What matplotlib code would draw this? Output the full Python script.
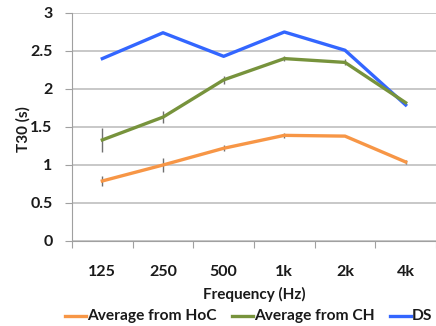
import matplotlib
matplotlib.use("Agg")
import matplotlib.pyplot as plt
from matplotlib.lines import Line2D
import numpy as np

categories = ["125", "250", "500", "1k", "2k", "4k"]
hoc = [0.79, 1.00, 1.22, 1.39, 1.38, 1.04]
hoc_err = [0.07, 0.09, 0.04, 0.03, 0.0, 0.03]
ch = [1.33, 1.63, 2.12, 2.40, 2.35, 1.82]
ch_err = [0.16, 0.08, 0.05, 0.03, 0.04, 0.0]
ds = [2.40, 2.74, 2.43, 2.75, 2.51, 1.79]
yticks = [0, 0.5, 1, 1.5, 2, 2.5, 3]
ytick_labels = ["0", "0.5", "1", "1.5", "2", "2.5", "3"]
series_names = ["Average from HoC", "Average from CH", "DS"]

plt.rcParams['font.family'] = ['Lato', 'DejaVu Sans']

W, H = 436, 326
fig = plt.figure(figsize=(4.36, 3.26), dpi=100)
ax = fig.add_axes([72 / W, 85 / H, 364 / W, 228 / H])

x = np.arange(len(categories)) + 0.5
c_hoc = "#f79646"
c_ch = "#77933c"
c_ds = "#3366ff"
colors = [c_hoc, c_ch, c_ds]

ax.errorbar(x, hoc, yerr=hoc_err, color=c_hoc, lw=2.4, ecolor="#707070",
            elinewidth=1.0, capsize=0, zorder=3)
ax.errorbar(x, ch, yerr=ch_err, color=c_ch, lw=2.4, ecolor="#707070",
            elinewidth=1.0, capsize=0, zorder=3)
ax.plot(x, ds, color=c_ds, lw=2.4, zorder=3)

ax.set_xlim(0, 6)
ax.set_ylim(0, 3)
ax.set_yticks(yticks)
ax.set_yticklabels(ytick_labels)
ax.set_xticks(np.arange(0, 7))
ax.set_xticklabels([])
ax.set_xticks(x, minor=True)
ax.set_xticklabels(categories, minor=True)
ax.tick_params(axis='x', which='minor', length=0, pad=17)
ax.tick_params(axis='x', which='major', length=5, color="#a0a0a0", direction='out')
ax.tick_params(axis='y', length=5, color="#a0a0a0", pad=9)
for lab in ax.get_xticklabels(minor=True) + ax.get_yticklabels():
    lab.set_fontsize(11.5)
    lab.set_fontweight('bold')
    lab.set_color("#1a1a1a")

ax.grid(axis='y', color="#bfbfbf", lw=1.2)
ax.set_axisbelow(True)
for s in ["top", "right"]:
    ax.spines[s].set_visible(False)
ax.spines["left"].set_color("#a0a0a0")
ax.spines["bottom"].set_color("#a0a0a0")

ax.set_xlabel("Frequency (Hz)", fontsize=11, fontweight='bold', labelpad=6,
              color="#1a1a1a")
ax.set_ylabel("T30 (s)", fontsize=11, fontweight='bold', color="#1a1a1a",
              va='center')
ax.yaxis.set_label_coords((23 - 72) / 364, 0.49)

# legend drawn manually in figure pixel positions
leg_y = 1 - 316 / H
line_x = [(65, 86), (232, 253), (390, 411)]
for (x0, x1), col, name in zip(line_x, colors, series_names):
    fig.add_artist(Line2D([x0 / W, x1 / W], [leg_y, leg_y], color=col, lw=2.4,
                          transform=fig.transFigure))
    fig.text((x1 + 1) / W, leg_y, name, fontsize=11.2, fontweight='bold',
             va='center', ha='left', color="#1a1a1a")

fig.savefig("out.png", dpi=100)
